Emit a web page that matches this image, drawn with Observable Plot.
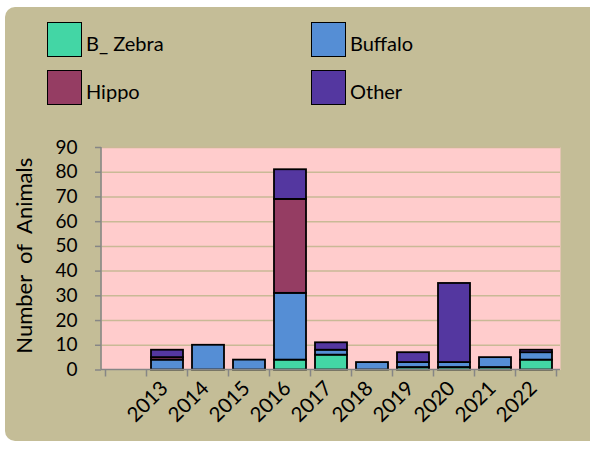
<!DOCTYPE html>
<html><head><meta charset="utf-8">
<script src="https://cdn.jsdelivr.net/npm/d3@7"></script>
<script src="https://cdn.jsdelivr.net/npm/@observablehq/plot@0.6"></script>
<style>
html,body{margin:0;padding:0;background:#fff;}
#page{position:relative;width:590px;height:457px;overflow:hidden;font-family:Lato,"Open Sans",sans-serif;}
#panel{position:absolute;left:5px;top:7px;width:640px;height:434px;background:#c4bd97;border-radius:10px;}
.leg{position:absolute;display:flex;align-items:center;font-size:20px;color:#000;line-height:1.2;white-space:pre;}
.sw{width:35px;height:35px;border:1.5px solid #000;box-sizing:border-box;margin-right:4px;}
.leg span{position:relative;top:3px;}
#chart{position:absolute;left:0;top:130px;}
#chart svg{overflow:visible;}
#chart svg text{white-space:pre;}
</style></head>
<body>
<div id="page"><div id="panel"></div><div id="legend"></div><div id="chart"></div></div>
<script>
const years = ["", "2013", "2014", "2015", "2016", "2017", "2018", "2019", "2020", "2021", "2022"];
const seriesNames = ["B_ Zebra", "Buffalo", "Hippo", "Other"];
const seriesColors = ["#43d6a5", "#558ed5", "#953d63", "#5437a0"];
const zebra   = [0, 0, 0, 0, 4, 6, 0, 1, 1, 1, 4];
const buffalo = [0, 4, 10, 4, 27, 2, 3, 2, 2, 4, 3];
const hippo   = [0, 1, 0, 0, 38, 0, 0, 0, 0, 0, 0];
const other   = [0, 3, 0, 0, 12, 3, 0, 4, 32, 0, 1];
const yTicks = [0, 10, 20, 30, 40, 50, 60, 70, 80, 90];
const yLabel = "Number  of  Animals";
const legendPos = [[47, 22], [311, 22], [47, 70], [311, 70]];

const seriesValues = [zebra, buffalo, hippo, other];
const data = [];
seriesNames.forEach((s, si) => years.forEach((yr, i) => {
  if (seriesValues[si][i] > 0) data.push({year: yr, series: s, value: seriesValues[si][i]});
}));

// legend
const leg = document.getElementById("legend");
seriesNames.forEach((s, i) => {
  const d = document.createElement("div");
  d.className = "leg";
  d.style.left = legendPos[i][0] + "px";
  d.style.top = legendPos[i][1] + "px";
  d.innerHTML = `<div class="sw" style="background:${seriesColors[i]}"></div><span>${s}</span>`;
  leg.appendChild(d);
});

function axesLines(index, scales, values, dims) {
  const x = scales.x;
  const step = x.step ? x.step() : (dims.width - dims.marginLeft - dims.marginRight) / years.length;
  const pad = (step - (x.bandwidth ? x.bandwidth() : step * 0.77)) / 2;
  const y0 = dims.height - dims.marginBottom;
  const g = d3.create("svg:g").attr("stroke", "#868686").attr("stroke-width", 1.5).attr("fill", "none");
  const edges = years.map(yr => x(yr) - pad);
  edges.push(edges[edges.length - 1] + step);
  edges.forEach(e => g.append("line").attr("x1", e).attr("x2", e).attr("y1", y0).attr("y2", y0 + 7));
  g.append("line").attr("x1", dims.marginLeft).attr("x2", dims.width - dims.marginRight).attr("y1", y0).attr("y2", y0);
  g.append("line").attr("x1", dims.marginLeft).attr("x2", dims.marginLeft).attr("y1", dims.marginTop).attr("y2", y0);
  return g.node();
}

const chart = Plot.plot({
  width: 590,
  height: 314,
  marginLeft: 101,
  marginRight: 30,
  marginTop: 17,
  marginBottom: 74.5,
  style: {fontFamily: "Lato, sans-serif", fontSize: "19px", background: "transparent", color: "#000"},
  x: {type: "band", domain: years, paddingInner: 0.23, paddingOuter: 0.115},
  y: {domain: [0, 90]},
  color: {domain: seriesNames, range: seriesColors},
  marks: [
    Plot.frame({fill: "#ffcccc", stroke: null}),
    Plot.gridY(yTicks.filter(t => t > 0), {stroke: "#c9b996", strokeOpacity: 1, strokeWidth: 1.5}),
    Plot.barY(data, Plot.stackY({x: "year", y: "value", fill: "series", stroke: "#000", strokeWidth: 1.8})),
    axesLines,
    Plot.axisY({ticks: yTicks, tickSize: 6, tickPadding: 18, stroke: "#868686", strokeWidth: 1.5, fontSize: 19, label: null}),
    Plot.text([yLabel], {frameAnchor: "left", textAnchor: "middle", rotate: -90, dx: -77, dy: -3, fontSize: 22, fill: "#000"}),
    Plot.axisX({ticks: years.slice(1), tickSize: 0, tickRotate: -45, tickPadding: 15, dx: -3, fontSize: 20.5, label: null})
  ]
});
document.getElementById("chart").appendChild(chart);
</script>
</body></html>
